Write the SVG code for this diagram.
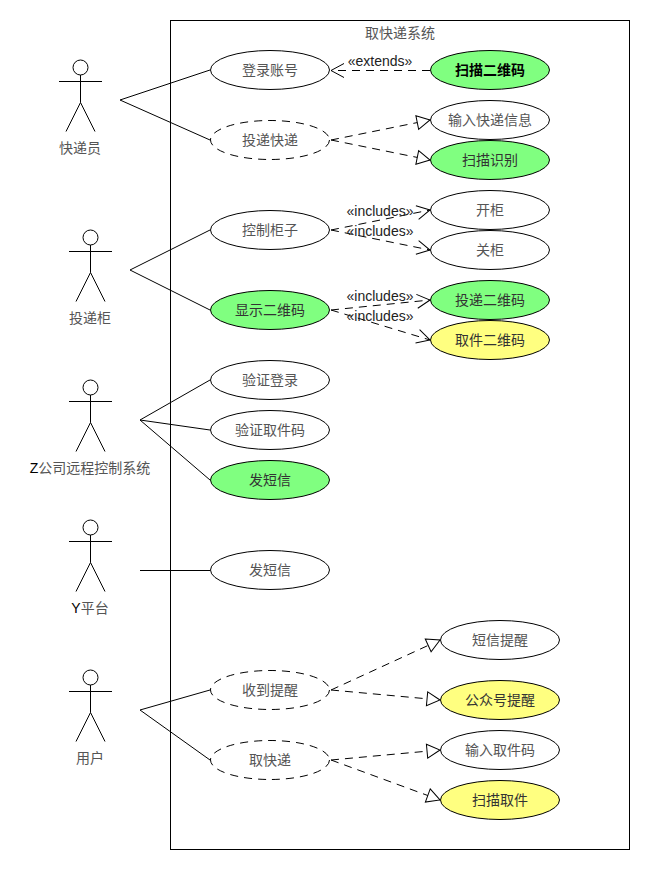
<svg xmlns="http://www.w3.org/2000/svg" width="650" height="870" viewBox="0 0 650 870">
<style>
text{font-family:"Liberation Sans","Noto Sans CJK SC",sans-serif;font-size:14px;fill:#555;text-anchor:middle}
.k{fill:#000}
.st{fill:#222;font-size:14px}
.uc{stroke:#000;stroke-width:1;fill:#fff}
.g{fill:#80ff80}
.y{fill:#ffff80}
.dk{fill:#333}
.d{stroke-dasharray:8 6}
.a line,.a circle{stroke:#000;stroke-width:1;fill:#fff}
.c line{stroke:#000;stroke-width:1;fill:none}
.oa{marker-end:url(#open)}
.ta{marker-end:url(#tri)}
</style>
<defs>
<marker id="open" markerUnits="userSpaceOnUse" markerWidth="16" markerHeight="16" refX="14" refY="7" orient="auto" overflow="visible"><path d="M1 0L14 7L1 14" fill="none" stroke="#000"/></marker>
<marker id="tri" markerUnits="userSpaceOnUse" markerWidth="16" markerHeight="16" refX="13" refY="7" orient="auto" overflow="visible"><path d="M0 0L13 7L0 14Z" fill="#fff" stroke="#000"/></marker>
<g id="actor" class="a"><circle cx="0" cy="7" r="7.5"/><line x1="0" y1="14.500" x2="0" y2="42"/><line x1="-21.500" y1="21" x2="21.500" y2="21"/><line x1="0" y1="42" x2="-14.500" y2="71"/><line x1="0" y1="42" x2="14.500" y2="71"/></g>
</defs>
<rect id="system" x="170.500" y="20.500" width="459" height="829" fill="#fff" stroke="#000"/>
<text x="400" y="38">取快递系统</text>
<g id="connectors" class="c">
<line x1="120" y1="100" x2="210" y2="70"/><line x1="120" y1="100" x2="210" y2="140"/>
<line x1="130" y1="270" x2="210" y2="230"/><line x1="130" y1="270" x2="210" y2="310"/>
<line x1="140" y1="420" x2="210" y2="380"/><line x1="140" y1="420" x2="210" y2="430"/><line x1="140" y1="420" x2="210" y2="480"/>
<line x1="140" y1="570.500" x2="210" y2="570.500"/>
<line x1="140" y1="710" x2="210" y2="690"/><line x1="140" y1="710" x2="210" y2="760"/>
<line class="d oa" x1="430" y1="70.500" x2="331" y2="70.500"/>
<line class="d ta" x1="331" y1="140" x2="430" y2="120"/><line class="d ta" x1="331" y1="140" x2="430" y2="160"/>
<line class="d oa" x1="331" y1="230" x2="430" y2="210"/><line class="d oa" x1="331" y1="230" x2="430" y2="250"/>
<line class="d oa" x1="331" y1="310" x2="430" y2="300"/><line class="d oa" x1="331" y1="310" x2="430" y2="340"/>
<line class="d ta" x1="331" y1="690" x2="440" y2="640"/><line class="d ta" x1="331" y1="690" x2="440" y2="700"/>
<line class="d ta" x1="331" y1="760" x2="440" y2="750"/><line class="d ta" x1="331" y1="760" x2="440" y2="800"/>
</g>
<g id="connector-labels">
<text class="st" x="380" y="66">«extends»</text>
<text class="st" x="380" y="216">«includes»</text><text class="st" x="380" y="236">«includes»</text>
<text class="st" x="380" y="301">«includes»</text><text class="st" x="380" y="321">«includes»</text>
</g>
<g id="actor-courier"><use href="#actor" x="80.500" y="60.500"/><text x="80" y="153">快递员</text></g>
<g id="actor-cabinet"><use href="#actor" x="90.500" y="230.500"/><text x="90" y="323">投递柜</text></g>
<g id="actor-z"><use href="#actor" x="90.500" y="380.500"/><text x="90" y="473"><tspan class="k">Z</tspan>公司远程控制系统</text></g>
<g id="actor-y"><use href="#actor" x="90.500" y="520.500"/><text x="90" y="613"><tspan class="k">Y</tspan>平台</text></g>
<g id="actor-user"><use href="#actor" x="90.500" y="670.500"/><text x="90" y="763">用户</text></g>
<g id="uc-login"><ellipse class="uc" cx="270" cy="70" rx="59.500" ry="19.500"/><text x="270" y="75">登录账号</text></g>
<g id="uc-deliver"><ellipse class="uc d" cx="270" cy="140" rx="59.500" ry="19.500"/><text x="270" y="145">投递快递</text></g>
<g id="uc-control"><ellipse class="uc" cx="270" cy="230" rx="59.500" ry="19.500"/><text x="270" y="235">控制柜子</text></g>
<g id="uc-showqr"><ellipse class="uc g" cx="270" cy="310" rx="59.500" ry="19.500"/><text class="dk" x="270" y="315">显示二维码</text></g>
<g id="uc-verify-login"><ellipse class="uc" cx="270" cy="380" rx="59.500" ry="19.500"/><text x="270" y="385">验证登录</text></g>
<g id="uc-verify-code"><ellipse class="uc" cx="270" cy="430" rx="59.500" ry="19.500"/><text x="270" y="435">验证取件码</text></g>
<g id="uc-sms1"><ellipse class="uc g" cx="270" cy="480" rx="59.500" ry="19.500"/><text class="dk" x="270" y="485">发短信</text></g>
<g id="uc-sms2"><ellipse class="uc" cx="270" cy="570" rx="59.500" ry="19.500"/><text x="270" y="575">发短信</text></g>
<g id="uc-notified"><ellipse class="uc d" cx="270" cy="690" rx="59.500" ry="19.500"/><text x="270" y="695">收到提醒</text></g>
<g id="uc-pickup"><ellipse class="uc d" cx="270" cy="760" rx="59.500" ry="19.500"/><text x="270" y="765">取快递</text></g>
<g id="uc-scanqr"><ellipse class="uc g" cx="490" cy="70" rx="59.500" ry="19.500"/><text class="k" font-weight="bold" x="490" y="75">扫描二维码</text></g>
<g id="uc-input"><ellipse class="uc" cx="490" cy="120" rx="59.500" ry="19.500"/><text x="490" y="125">输入快递信息</text></g>
<g id="uc-scan"><ellipse class="uc g" cx="490" cy="160" rx="59.500" ry="19.500"/><text class="dk" x="490" y="165">扫描识别</text></g>
<g id="uc-open"><ellipse class="uc" cx="490" cy="210" rx="59.500" ry="19.500"/><text x="490" y="215">开柜</text></g>
<g id="uc-close"><ellipse class="uc" cx="490" cy="250" rx="59.500" ry="19.500"/><text x="490" y="255">关柜</text></g>
<g id="uc-deliverqr"><ellipse class="uc g" cx="490" cy="300" rx="59.500" ry="19.500"/><text class="dk" x="490" y="305">投递二维码</text></g>
<g id="uc-pickupqr"><ellipse class="uc y" cx="490" cy="340" rx="59.500" ry="19.500"/><text class="dk" x="490" y="345">取件二维码</text></g>
<g id="uc-smsnote"><ellipse class="uc" cx="500" cy="640" rx="59.500" ry="19.500"/><text x="500" y="645">短信提醒</text></g>
<g id="uc-wechat"><ellipse class="uc y" cx="500" cy="700" rx="59.500" ry="19.500"/><text class="dk" x="500" y="705">公众号提醒</text></g>
<g id="uc-inputcode"><ellipse class="uc" cx="500" cy="750" rx="59.500" ry="19.500"/><text x="500" y="755">输入取件码</text></g>
<g id="uc-scanpickup"><ellipse class="uc y" cx="500" cy="800" rx="59.500" ry="19.500"/><text class="dk" x="500" y="805">扫描取件</text></g>
</svg>
